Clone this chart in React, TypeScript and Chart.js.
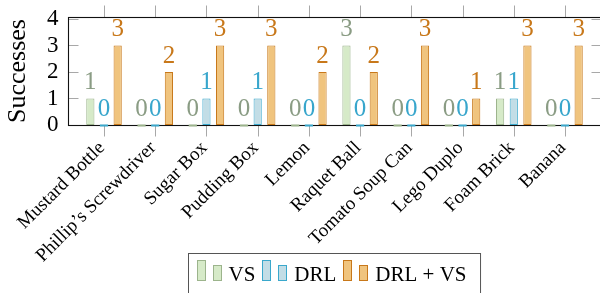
import React, { useEffect, useRef } from "react";
import { Chart, registerables } from "chart.js";

Chart.register(...registerables);

const CATEGORIES = [
  "Mustard Bottle",
  "Phillip’s Screwdriver",
  "Sugar Box",
  "Pudding Box",
  "Lemon",
  "Raquet Ball",
  "Tomato Soup Can",
  "Lego Duplo",
  "Foam Brick",
  "Banana",
];
const VS = [1, 0, 0, 0, 0, 3, 0, 0, 1, 0];
const DRL = [0, 0, 1, 1, 0, 0, 0, 0, 1, 0];
const DRL_VS = [3, 2, 3, 3, 2, 2, 3, 1, 3, 3];
const Y_TICKS = [0, 1, 2, 3, 4];
const SERIES_NAMES = ["VS", "DRL", "DRL + VS"];
const AXIS_TITLE = "Successes";

const FILLS = ["#d6eac8", "#c2dde6", "#f0c47e"];
const BORDERS = ["#9cb48c", "#3aa8cc", "#c8781a"];
const LABEL_COLORS = ["#8a9c84", "#38a6cc", "#c8781a"];

const SERIF = "'Liberation Serif', 'Times New Roman', serif";
const ENLARGE = 10.4;

const framePlugin = {
  id: "frame",
  beforeDatasetsDraw(chart: any) {
    const { ctx, chartArea: ca, scales } = chart;
    const xs = scales.x;
    const ys = scales.y;
    const left = Math.round(ca.left - ENLARGE) + 0.5;
    const right = Math.round(ca.right + ENLARGE) + 0.5;
    const top = Math.round(ca.top) + 0.5;
    const bottom = Math.round(ca.bottom) + 0.5;
    ctx.save();
    ctx.lineWidth = 1;
    ctx.strokeStyle = "#a8a8a8";
    CATEGORIES.forEach((_, i) => {
      const x = Math.round(xs.getPixelForValue(i)) + 0.5;
      ctx.beginPath();
      ctx.moveTo(x, top - 12);
      ctx.lineTo(x, top);
      ctx.moveTo(x, bottom);
      ctx.lineTo(x, bottom + 11);
      ctx.stroke();
    });
    Y_TICKS.forEach((v) => {
      if (v === 0) return;
      const y = Math.round(ys.getPixelForValue(v)) + 0.5;
      ctx.beginPath();
      ctx.moveTo(left, y);
      ctx.lineTo(left + 10, y);
      ctx.moveTo(right - 10, y);
      ctx.lineTo(right, y);
      ctx.stroke();
    });
    ctx.strokeStyle = "#111";
    ctx.lineWidth = 1.1;
    ctx.strokeRect(left, top, right - left, bottom - top);
    ctx.restore();
  },
  afterDatasetsDraw(chart: any) {
    const { ctx, chartArea: ca } = chart;
    ctx.save();
    chart.data.datasets.forEach((ds: any, di: number) => {
      const meta = chart.getDatasetMeta(di);
      meta.data.forEach((el: any, i: number) => {
        const v = ds.data[i];
        const w = el.width;
        if (v === 0) {
          ctx.strokeStyle = BORDERS[di];
          ctx.lineWidth = 2;
          ctx.beginPath();
          ctx.moveTo(el.x - w / 2, Math.round(ca.bottom) + 0.5);
          ctx.lineTo(el.x + w / 2, Math.round(ca.bottom) + 0.5);
          ctx.stroke();
        }
        ctx.fillStyle = LABEL_COLORS[di];
        ctx.font = `25px ${SERIF}`;
        ctx.textAlign = "center";
        ctx.textBaseline = "alphabetic";
        ctx.fillText(String(v), el.x, el.y - 9);
      });
    });
    ctx.restore();
  },
  afterDraw(chart: any) {
    const { ctx, chartArea: ca } = chart;
    ctx.save();
    ctx.font = `21px ${SERIF}`;
    const barW = 8;
    const entryWidths = SERIES_NAMES.map((n) => 32 + ctx.measureText(n).width);
    const gap = 7;
    const inner = entryWidths.reduce((a, b) => a + b, 0) + gap * (SERIES_NAMES.length - 1);
    const boxW = inner + 22;
    const center = (ca.left - ENLARGE + ca.right + ENLARGE) / 2;
    const boxL = Math.round(center - boxW / 2) + 0.5;
    const boxT = 253.5;
    ctx.fillStyle = "#fff";
    ctx.fillRect(boxL, boxT, boxW, 60);
    ctx.strokeStyle = "#555";
    ctx.lineWidth = 1;
    ctx.strokeRect(boxL, boxT, boxW, 60);
    let x = boxL + 8;
    SERIES_NAMES.forEach((n, i) => {
      ctx.fillStyle = FILLS[i];
      ctx.strokeStyle = BORDERS[i];
      ctx.lineWidth = 1;
      const bx1 = Math.round(x) + 0.5;
      ctx.fillRect(bx1, 260.5, barW, 20);
      ctx.strokeRect(bx1, 260.5, barW, 20);
      const bx2 = Math.round(x + 16) + 0.5;
      ctx.fillRect(bx2, 265.5, barW, 15);
      ctx.strokeRect(bx2, 265.5, barW, 15);
      ctx.fillStyle = "#000";
      ctx.textAlign = "left";
      ctx.textBaseline = "alphabetic";
      ctx.fillText(n, x + 32, 281);
      x += entryWidths[i] + gap;
    });
    ctx.restore();
  },
};

export default function App() {
  const ref = useRef<HTMLCanvasElement | null>(null);
  useEffect(() => {
    if (!ref.current) return;
    let chart: any = null;
    let cancelled = false;
    const build = () => {
      if (cancelled || !ref.current) return;
      const series = [VS, DRL, DRL_VS];
      chart = new Chart(ref.current, {
        type: "bar",
        data: {
          labels: CATEGORIES,
          datasets: series.map((d, i) => ({
            label: SERIES_NAMES[i],
            data: d,
            backgroundColor: FILLS[i],
            borderColor: BORDERS[i],
            borderWidth: 1,
            borderSkipped: false,
            categoryPercentage: 0.8,
            barPercentage: 0.6,
          })),
        },
        options: {
          responsive: false,
          animation: false,
          devicePixelRatio: 1,
          layout: { padding: { top: 17, right: 9.4, left: 0, bottom: 0 } },
          plugins: {
            legend: { display: false },
            tooltip: { enabled: false },
          },
          scales: {
            x: {
              grid: { display: false, drawTicks: false },
              border: { display: false },
              ticks: {
                autoSkip: false,
                maxRotation: 45,
                minRotation: 45,
                padding: 12,
                labelOffset: -2,
                color: "#000",
                font: { family: SERIF, size: 19 },
              },
              afterFit(scale: any) {
                scale.height = 168;
                scale.paddingLeft = 0;
                scale.paddingRight = 0;
              },
            },
            y: {
              min: 0,
              max: 4.075,
              grid: { display: false, drawTicks: false },
              border: { display: false },
              ticks: {
                autoSkip: false,
                padding: 20,
                color: "#000",
                font: { family: SERIF, size: 23 },
              },
              afterBuildTicks(scale: any) {
                scale.ticks = Y_TICKS.map((v) => ({ value: v }));
              },
              afterFit(scale: any) {
                scale.width = 78.4;
                scale.paddingTop = 0;
                scale.paddingBottom = 0;
              },
              title: {
                display: true,
                text: AXIS_TITLE,
                color: "#000",
                font: { family: SERIF, size: 26 },
                padding: { top: 3, bottom: 0 },
              },
            },
          },
        },
        plugins: [framePlugin],
      });
    };
    const fonts: any = (document as any).fonts;
    if (fonts && fonts.load) {
      Promise.all([
        fonts.load("22px 'Liberation Serif'"),
        fonts.load("19px 'Liberation Serif'"),
      ]).then(build, build);
    } else {
      build();
    }
    return () => {
      cancelled = true;
      if (chart) chart.destroy();
    };
  }, []);
  return (
    <div style={{ position: "fixed", left: 0, top: 0, width: 600, height: 293, background: "#fff" }}>
      <canvas ref={ref} width={600} height={293} style={{ display: "block" }} />
    </div>
  );
}
